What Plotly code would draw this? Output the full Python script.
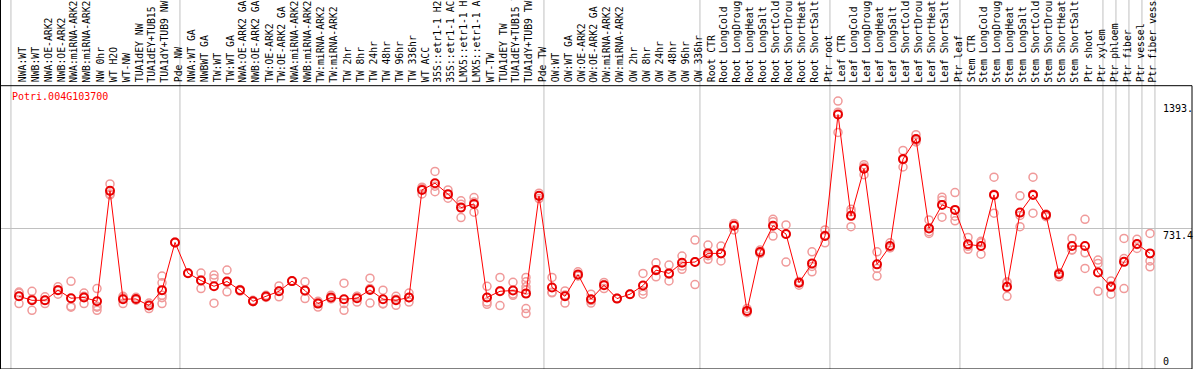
import plotly.graph_objects as go

gene = "Potri.004G103700"

labels = [
    "NWA:WT", "NWB:WT", "NWA:OE-ARK2", "NWB:OE-ARK2", "NWA:miRNA-ARK2", "NWB:miRNA-ARK2",
    "NW 0hr", "WT H2O", "WT-NW", "TUA1dEY NW", "TUA1dEY+TUB15 NW", "TUA1dY+TUB9 NW", "Pde NW",
    "NWA:WT GA", "NWBWT GA", "TW:WT", "TW:WT GA", "NWA:OE-ARK2 GA", "NWB:OE-ARK2 GA",
    "TW:OE-ARK2", "TW:OE-ARK2 GA", "NWA:miRNA-ARK2 GA", "NWB:miRNA-ARK2 GA", "TW:miRNA-ARK2",
    "TW:miRNA-ARK2 GA", "TW 2hr", "TW 8hr", "TW 24hr", "TW 48hr", "TW 96hr", "TW 336hr", "WT ACC",
    "35S::etr1-1 H2O", "35S::etr1-1 ACC", "LMX5::etr1-1 H2O", "LMX5::etr1-1 ACC", "WT-TW",
    "TUA1dEY TW", "TUA1dEY+TUB15 TW", "TUA1dY+TUB9 TW", "Pde TW",
    "OW:WT", "OW:WT GA", "OW:OE-ARK2", "OW:OE-ARK2 GA", "OW:miRNA-ARK2", "OW:miRNA-ARK2 GA",
    "OW 2hr", "OW 8hr", "OW 24hr", "OW 48hr", "OW 96hr", "OW 336hr",
    "Root CTR", "Root LongCold", "Root LongDrought", "Root LongHeat", "Root LongSalt",
    "Root ShortCold", "Root ShortDrought", "Root ShortHeat", "Root ShortSalt", "Ptr root",
    "Leaf CTR", "Leaf LongCold", "Leaf LongDrought", "Leaf LongHeat", "Leaf LongSalt",
    "Leaf ShortCold", "Leaf ShortDrought", "Leaf ShortHeat", "Leaf ShortSalt", "Ptr leaf",
    "Stem CTR", "Stem LongCold", "Stem LongDrought", "Stem LongHeat", "Stem LongSalt",
    "Stem ShortCold", "Stem ShortDrought", "Stem ShortHeat", "Stem ShortSalt", "Ptr shoot", "Ptr xylem",
    "Ptr phloem", "Ptr fiber", "Ptr vessel", "Ptr fiber vessel",
]

means = [
    378, 357, 357, 410, 368, 372, 352, 926, 363, 364, 330, 410, 658,
    498, 460, 430, 455, 410, 352, 377, 404, 457, 408, 340, 372, 363, 368, 411, 363, 357, 372,
    931, 966, 909, 839, 858, 372, 404, 408, 392, 900,
    424, 378, 491, 363, 436, 366, 389, 434, 514, 497, 552, 556,
    601, 601, 745, 302, 608, 745, 702, 448, 549, 691,
    1323, 796, 1041, 544, 639, 1091, 1196, 731, 853, 827,
    648, 639, 905, 427, 813, 905, 801, 493, 639, 639, 502,
    427, 557, 650, 601,
]

replicates = [
    [395, 340, 400], [404, 305, 362], [375, 340, 357], [427, 389, 412], [456, 326, 321],
    [395, 340, 378], [418, 326, 305, 321], [962, 905, 910], [378, 340, 370], [373, 360, 358],
    [343, 314, 332], [483, 448, 383, 371, 340], [660, 655],
    [498, 500], [499, 418, 463], [488, 471, 342], [514, 401, 450], [413, 405], [357, 350],
    [383, 372], [432, 375, 405], [456, 458], [453, 366, 405], [352, 322, 346], [383, 365, 367],
    [446, 340, 305], [348, 378, 377], [472, 343, 418], [410, 340, 338], [378, 331, 363],
    [395, 348, 371], [945, 910, 938], [1027, 922, 950], [931, 888, 907], [874, 787, 856],
    [891, 815, 868], [430, 348, 336], [476, 330, 407], [451, 383, 390],
    [476, 453, 427, 410, 314, 288], [914, 886, 900],
    [476, 396, 399], [406, 343, 385], [505, 485, 484], [389, 343, 356], [450, 418, 439],
    [366, 368], [389, 388], [497, 406, 389], [552, 479, 511], [540, 458, 492],
    [587, 535, 518], [670, 439, 558],
    [644, 570, 589], [639, 562, 602], [723, 755, 757], [314, 298, 293], [618, 600, 605],
    [766, 691, 778], [749, 556, 700], [436, 455, 452], [609, 505, 533], [723, 656, 695],
    [1393, 1230, 1335], [830, 740, 817], [1062, 1010, 1050], [609, 523, 483], [656, 630, 631],
    [1136, 1050, 1088], [1218, 1180, 1189], [714, 775, 705], [893, 789, 877], [917, 770, 794],
    [684, 622, 638], [656, 597, 664], [997, 810, 908], [453, 378, 449], [900, 740, 798],
    [997, 810, 908], [792, 805, 805], [479, 500, 500], [679, 618, 620], [778, 604, 523],
    [566, 549, 404],
    [458, 389, 433], [679, 418, 574], [674, 627, 647], [705, 562, 531],
]

group_starts = [0, 13, 41, 53, 63, 73, 84, 85, 86, 87, 88]

tick_values = [1393.0, 731.4, 0]
tick_texts = ["1393.", "731.4", "0"]

# ---------------- layout geometry (pixels) ----------------
W, H = 1194, 370
ML, MR, MT, MB = 0, 2, 0, 1
PW = W - ML - MR
PH = H - MT - MB
X0_PX, STEP_PX = 19, 13           # first sample centre / sample spacing
GRID_PX = 228.3                    # pixel row of the 731.4 grid line
FRAME_PX = 85.7                    # pixel row of the black line under the labels
ypp = tick_values[1] / ((H - MB) - GRID_PX)   # value per pixel
YTOP = PH * ypp
YFRAME = ((H - MB) - FRAME_PX) * ypp
xr = [-(X0_PX - ML) / STEP_PX, (PW - (X0_PX - ML)) / STEP_PX]

xs = list(range(len(means)))
rx, ry = [], []
for i, vals in enumerate(replicates):
    for v in vals:
        rx.append(i)
        ry.append(v)

fig = go.Figure()
fig.add_trace(go.Scatter(
    x=rx, y=ry, mode="markers", hoverinfo="skip",
    marker=dict(symbol="circle-open", size=8, color="#f09a9a", line=dict(width=1.5)),
))
fig.add_trace(go.Scatter(
    x=xs, y=means, mode="lines+markers",
    line=dict(color="#ff0000", width=1),
    marker=dict(symbol="circle-open", size=8, color="#e80000", line=dict(width=2)),
))

shapes = []
for g in group_starts:
    shapes.append(dict(type="line", xref="x", yref="paper", x0=g - 0.62, x1=g - 0.62,
                       y0=0, y1=1, line=dict(color="#c0c0c0", width=1), layer="below"))
# frame
shapes.append(dict(type="line", xref="paper", yref="paper", x0=0, x1=0, y0=0, y1=1,
                   line=dict(color="black", width=2)))
shapes.append(dict(type="line", xref="paper", yref="y", x0=0, x1=1, y0=0, y1=0,
                   line=dict(color="black", width=1)))
shapes.append(dict(type="line", xref="paper", yref="y", x0=0, x1=1, y0=YFRAME, y1=YFRAME,
                   line=dict(color="black", width=1)))
shapes.append(dict(type="line", xref="paper", yref="y", x0=1, x1=1, y0=0, y1=YFRAME,
                   line=dict(color="black", width=1)))

mono = "DejaVu Sans Mono"
annotations = []
for i, lab in enumerate(labels):
    annotations.append(dict(x=i, y=YFRAME, xref="x", yref="y", text=lab, showarrow=False,
                            textangle=-90, xanchor="center", yanchor="bottom",
                            xshift=3, yshift=1,
                            font=dict(family=mono, size=9.75, color="black")))
annotations.append(dict(x=(10 - ML) / PW, y=((H - MB) - 96) * ypp, xref="paper", yref="y",
                        text=gene, showarrow=False, xanchor="left", yanchor="middle",
                        font=dict(family=mono, size=10, color="#ff0000")))
for v, t in zip(tick_values, tick_texts):
    annotations.append(dict(x=(1161 - ML) / PW, y=v, xref="paper", yref="y", text=t,
                            showarrow=False, xanchor="left",
                            yanchor="top" if v > 0 else "bottom",
                            font=dict(family=mono, size=10, color="black")))

fig.update_layout(
    width=W, height=H, margin=dict(l=ML, r=MR, t=MT, b=MB, pad=0),
    paper_bgcolor="white", plot_bgcolor="white", showlegend=False,
    xaxis=dict(range=xr, showgrid=False, zeroline=False, showticklabels=False,
               showline=False, ticks="", fixedrange=True),
    yaxis=dict(range=[0, YTOP], tickvals=[tick_values[1]], showgrid=True,
               gridcolor="#c0c0c0", gridwidth=1, zeroline=False, showticklabels=False,
               showline=False, ticks="", fixedrange=True),
    shapes=shapes, annotations=annotations,
)

fig.write_html(
    "out.html",
    config={"displayModeBar": False},
    post_script="document.body.style.margin='0';document.body.style.overflow='hidden';",
)
